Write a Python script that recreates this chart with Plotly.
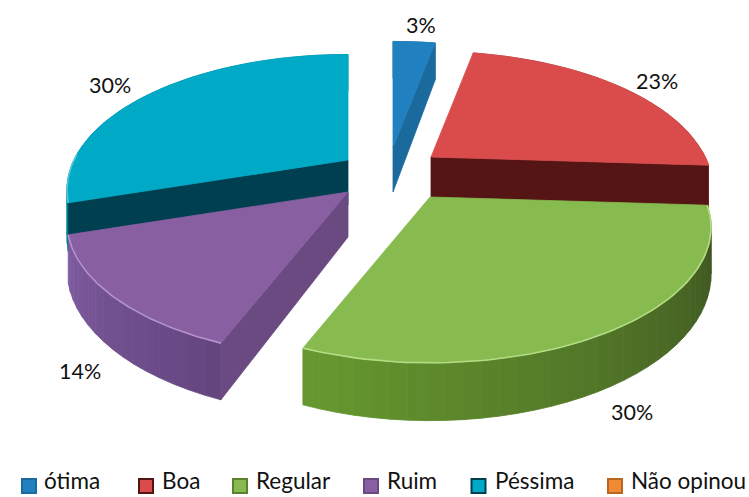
import numpy as np
import plotly.graph_objects as go

categories = ["ótima", "Boa", "Regular", "Ruim", "Péssima", "Não opinou"]
values = [3, 23, 30, 14, 30, 0]
top_colors = ["#2180C0", "#DA4C4C", "#87BB4F", "#8860A2", "#00A9C6", "#F08A34"]
face_colors = ["#1B6A9E", "#551515", "#5A8030", "#6A4A80", "#003F4F", "#B8651F"]
wall_start = ["#1B6A9E", "#A03A3A", "#3A4F1F", "#64467F", "#008FA8", "#B8651F"]
wall_end = ["#1B6A9E", "#A03A3A", "#66982F", "#7F5BA0", "#00859C", "#B8651F"]
rim_colors = ["#2180C0", "#DA4C4C", "#B5DC84", "#B493CC", "#50C8DC", "#F0A060"]

# layout of the exploded, tilted pie (page pixels)
pull_offsets = [(3, -30), (41, -20), (40, 20), (-42, 15), (-42, -17), (0, 0)]
label_offsets = [(421, 25), (657, 81), (632, 412), (80, 371), (110, 85), None]
legend_swatch_x = [29, 146, 240, 371, 478.5, 615]
legend_text_x = [42, 160, 254, 385, 493, 629]
LEGEND_Y = 485
CX, CY = 390, 177
RX, RY, PERSP, DEPTH = 274, 129, 0.222, 45
draw_order = [4, 0, 1, 3, 2]
front_face = {0: 1, 1: 1, 3: 0, 4: 0}


def project(theta, ox, oy, down=0.0):
    v = -np.cos(theta)
    s = 1 / (1 - PERSP * v)
    return ox + RX * np.sin(theta) * s, oy + RY * v * s + down * s


def mix(a, b, t):
    ca = [int(a[i:i + 2], 16) for i in (1, 3, 5)]
    cb = [int(b[i:i + 2], 16) for i in (1, 3, 5)]
    return "#%02x%02x%02x" % tuple(int(round(x + (y - x) * t)) for x, y in zip(ca, cb))


def poly(fig, xs, ys, color):
    fig.add_trace(go.Scatter(x=list(xs), y=list(ys), mode="lines", fill="toself",
                             fillcolor=color, line=dict(color=color, width=0.8),
                             showlegend=False, hoverinfo="skip"))


def cut_face(fig, t, ox, oy, color):
    x1, y1 = project(t, ox, oy)
    x2, y2 = project(t, ox, oy, DEPTH)
    poly(fig, [ox, x1, x2, ox, ox], [oy, y1, y2, oy + DEPTH, oy], color)


fig = go.Figure()
edges = np.cumsum([0] + values) / sum(values) * 2 * np.pi

for i in draw_order:
    t0, t1 = edges[i], edges[i + 1]
    ox, oy = CX + pull_offsets[i][0], CY + pull_offsets[i][1]
    # outer wall, in narrow shaded strips
    steps = np.linspace(t0, t1, max(3, int((t1 - t0) / np.radians(3))) + 1)
    for k in range(len(steps) - 1):
        a, b = steps[k], steps[k + 1]
        xa, ya = project(a, ox, oy)
        xb, yb = project(b, ox, oy)
        xc, yc = project(b, ox, oy, DEPTH)
        xd, yd = project(a, ox, oy, DEPTH)
        c = mix(wall_start[i], wall_end[i], k / max(1, len(steps) - 2))
        poly(fig, [xa, xb, xc, xd, xa], [ya, yb, yc, yd, ya], c)
    # the cut face that looks toward the viewer
    if i in front_face:
        cut_face(fig, (t0, t1)[front_face[i]], ox, oy, face_colors[i])
    # top surface
    arc = np.linspace(t0, t1, 80)
    ax, ay = project(arc, ox, oy)
    poly(fig, [ox, *ax, ox], [oy, *ay, oy], top_colors[i])
    # light rim on the side that faces the viewer
    keep = -np.cos(arc) > -0.05
    if keep.any():
        fig.add_trace(go.Scatter(x=ax[keep], y=ay[keep], mode="lines",
                                 line=dict(color=rim_colors[i], width=1.6),
                                 showlegend=False, hoverinfo="skip"))

# legend row
for name, color, edge, sx, tx in zip(categories, top_colors, face_colors, legend_swatch_x, legend_text_x):
    fig.add_trace(go.Scatter(x=[sx], y=[LEGEND_Y + 1], mode="markers", name=name, showlegend=False,
                             hoverinfo="name",
                             marker=dict(symbol="square", size=14, color=color,
                                         line=dict(color=edge, width=2))))
    fig.add_annotation(x=tx, y=496, yanchor="bottom", text=name, showarrow=False, xanchor="left",
                       font=dict(family="Lato", size=22.5, color="#111111"))

for v, pos in zip(values, label_offsets):
    if pos:
        fig.add_annotation(x=pos[0], y=pos[1], text=f"{v}%", showarrow=False,
                           font=dict(family="Lato", size=21.5, color="#111111"))

fig.update_layout(
    width=749, height=497, margin=dict(l=0, r=0, t=0, b=0),
    paper_bgcolor="white", plot_bgcolor="white", showlegend=False,
    xaxis=dict(range=[0, 749], visible=False, fixedrange=True),
    yaxis=dict(range=[497, 0], visible=False, fixedrange=True),
)
fig.write_html("out.html", post_script="document.body.style.margin='0';",
               config={"displayModeBar": False})
